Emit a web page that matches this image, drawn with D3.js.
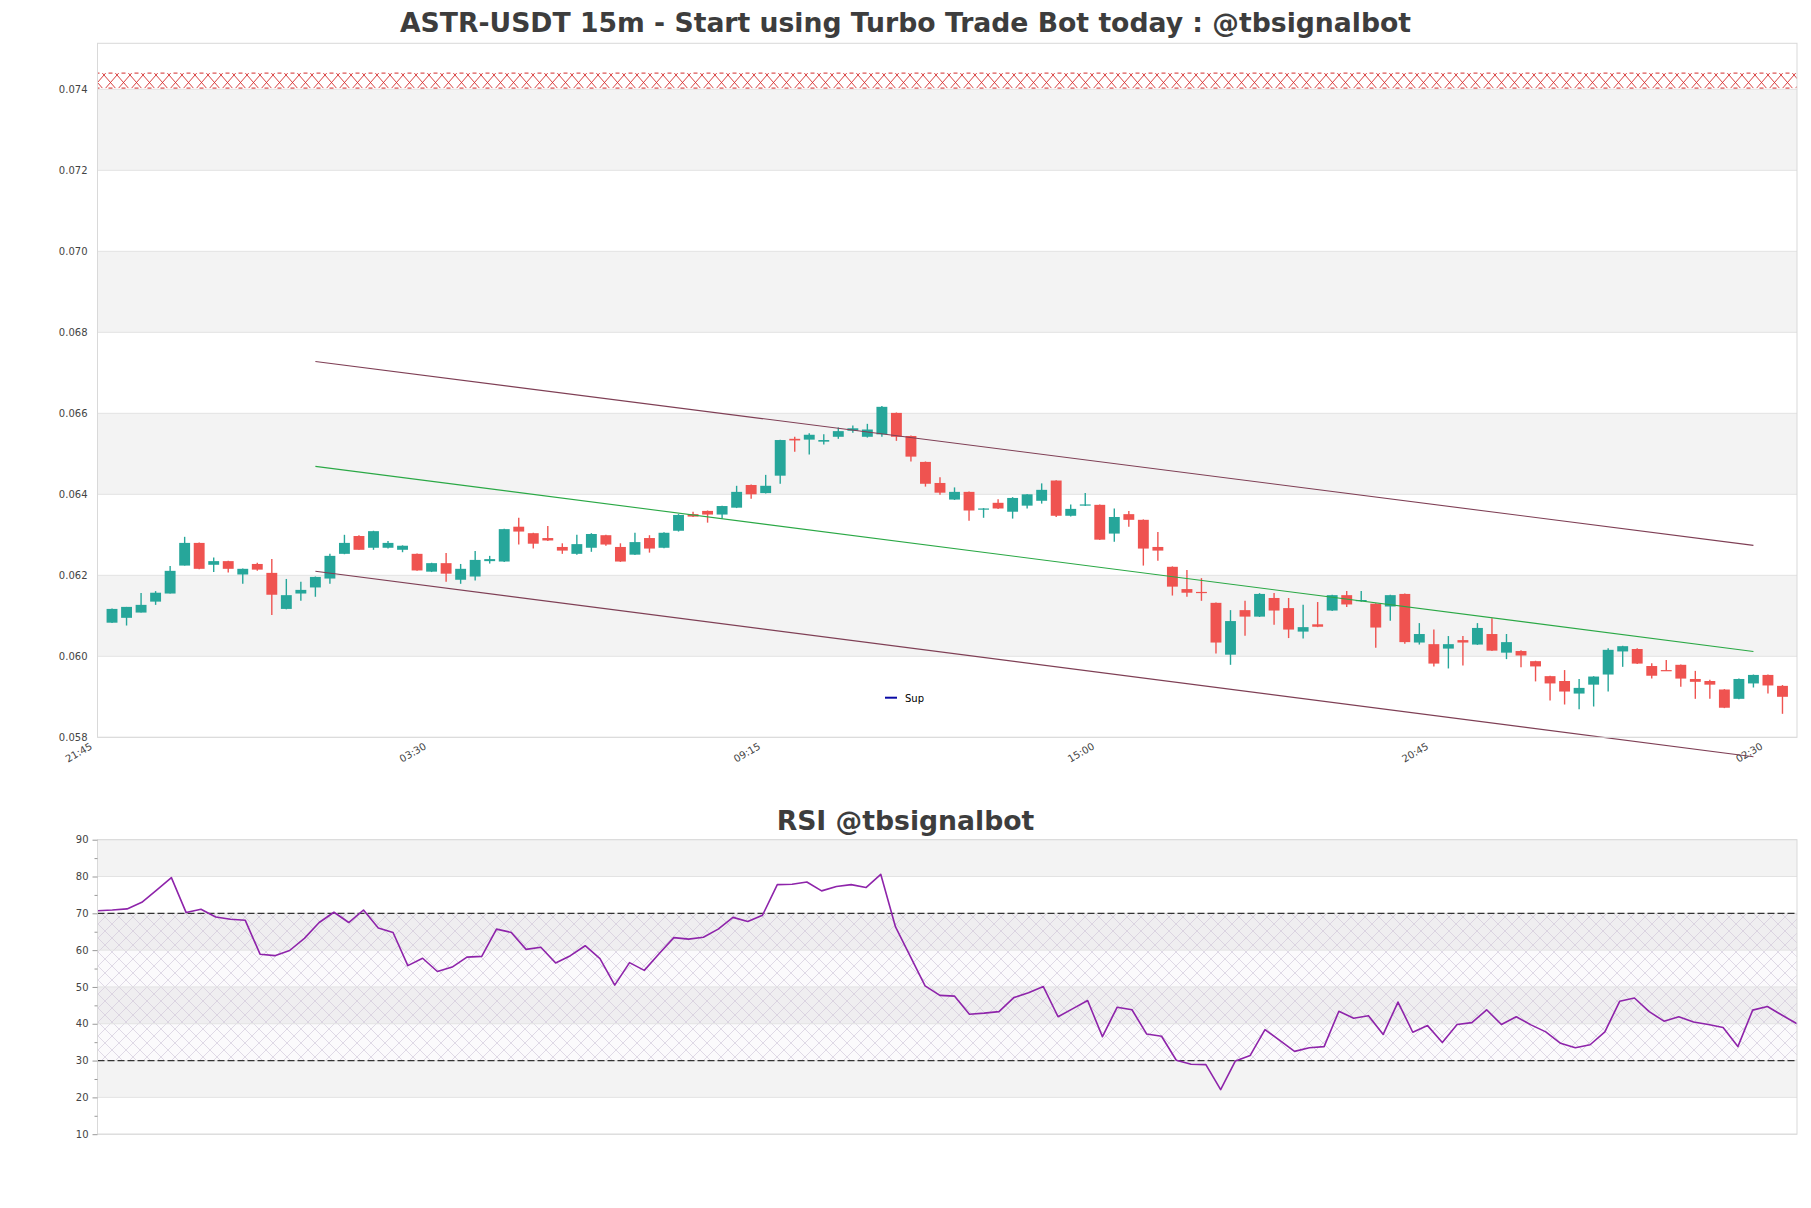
<!DOCTYPE html>
<html><head><meta charset="utf-8">
<script src="https://cdn.jsdelivr.net/npm/d3@7"></script>
<style>
body{margin:0;background:#fff}
svg{display:block}
text{font-family:"DejaVu Sans",sans-serif}
</style>
</head><body>
<svg id="chart" width="1811" height="1208"></svg>
<script>
// ---------- DATA ----------
const titleMain = "ASTR-USDT 15m - Start using Turbo Trade Bot today : @tbsignalbot";
const titleRsi = "RSI @tbsignalbot";

const opens = [0.06083,0.06095,0.06108,0.06135,0.06155,0.06224,0.06280,0.06226,0.06235,0.06202,
0.06228,0.06206,0.06117,0.06155,0.06170,0.06192,0.06253,0.06297,0.06268,0.06268,
0.06263,0.06253,0.06209,0.06230,0.06189,0.06197,0.06235,0.06234,0.06320,0.06304,
0.06292,0.06270,0.06253,0.06268,0.06299,0.06270,0.06251,0.06292,0.06268,0.06310,
0.06351,0.06359,0.06350,0.06367,0.06423,0.06403,0.06446,0.06537,0.06535,0.06530,
0.06542,0.06557,0.06542,0.06548,0.06601,0.06544,0.06480,0.06428,0.06387,0.06406,
0.06363,0.06379,0.06357,0.06372,0.06384,0.06434,0.06347,0.06372,0.06374,0.06303,
0.06351,0.06337,0.06270,0.06221,0.06166,0.06159,0.06132,0.06004,0.06114,0.06098,
0.06144,0.06119,0.06061,0.06079,0.06113,0.06151,0.06136,0.06130,0.06123,0.06154,
0.06034,0.06030,0.06019,0.06040,0.06029,0.06055,0.06009,0.06013,0.05988,0.05951,
0.05939,0.05908,0.05930,0.05955,0.06012,0.06018,0.05976,0.05966,0.05979,0.05944,
0.05939,0.05918,0.05895,0.05933,0.05954,0.05927];
const highs = [0.06118,0.06122,0.06156,0.06161,0.06223,0.06295,0.06281,0.06244,0.06236,0.06217,
0.06231,0.06240,0.06191,0.06184,0.06197,0.06253,0.06300,0.06299,0.06310,0.06285,
0.06274,0.06254,0.06231,0.06255,0.06228,0.06260,0.06248,0.06315,0.06342,0.06305,
0.06322,0.06279,0.06300,0.06304,0.06300,0.06279,0.06305,0.06299,0.06306,0.06351,
0.06357,0.06360,0.06372,0.06421,0.06424,0.06448,0.06535,0.06542,0.06551,0.06548,
0.06565,0.06570,0.06574,0.06618,0.06602,0.06545,0.06481,0.06442,0.06417,0.06407,
0.06366,0.06388,0.06393,0.06401,0.06427,0.06435,0.06375,0.06403,0.06375,0.06365,
0.06359,0.06338,0.06307,0.06222,0.06213,0.06193,0.06133,0.06114,0.06137,0.06156,
0.06156,0.06144,0.06127,0.06134,0.06152,0.06161,0.06161,0.06131,0.06152,0.06155,
0.06082,0.06066,0.06050,0.06050,0.06082,0.06094,0.06055,0.06015,0.05989,0.05952,
0.05966,0.05944,0.05951,0.06020,0.06026,0.06020,0.05983,0.05991,0.05980,0.05964,
0.05942,0.05919,0.05945,0.05955,0.05955,0.05929];
const lows = [0.06082,0.06076,0.06108,0.06127,0.06155,0.06224,0.06215,0.06208,0.06207,0.06179,
0.06211,0.06102,0.06116,0.06137,0.06147,0.06179,0.06252,0.06263,0.06263,0.06266,
0.06257,0.06211,0.06208,0.06184,0.06179,0.06187,0.06229,0.06233,0.06276,0.06266,
0.06285,0.06253,0.06251,0.06258,0.06273,0.06233,0.06250,0.06256,0.06267,0.06308,
0.06344,0.06330,0.06340,0.06366,0.06389,0.06402,0.06426,0.06505,0.06498,0.06523,
0.06537,0.06552,0.06540,0.06542,0.06532,0.06481,0.06419,0.06399,0.06386,0.06335,
0.06342,0.06364,0.06340,0.06365,0.06377,0.06344,0.06345,0.06371,0.06287,0.06283,
0.06320,0.06224,0.06236,0.06150,0.06147,0.06137,0.06007,0.05979,0.06051,0.06097,
0.06078,0.06045,0.06044,0.06072,0.06112,0.06122,0.06135,0.06021,0.06088,0.06031,
0.06029,0.05975,0.05970,0.05977,0.06028,0.06013,0.05993,0.05973,0.05938,0.05891,
0.05881,0.05869,0.05876,0.05913,0.05974,0.05981,0.05945,0.05964,0.05925,0.05895,
0.05895,0.05872,0.05894,0.05923,0.05908,0.05858];
const closes = [0.06117,0.06122,0.06127,0.06157,0.06211,0.06280,0.06216,0.06235,0.06216,0.06216,
0.06214,0.06152,0.06151,0.06164,0.06196,0.06248,0.06280,0.06263,0.06309,0.06280,
0.06273,0.06212,0.06230,0.06204,0.06216,0.06238,0.06240,0.06314,0.06308,0.06278,
0.06286,0.06261,0.06277,0.06302,0.06276,0.06234,0.06282,0.06266,0.06305,0.06349,
0.06345,0.06350,0.06371,0.06406,0.06400,0.06421,0.06534,0.06533,0.06547,0.06534,
0.06556,0.06563,0.06560,0.06616,0.06542,0.06493,0.06426,0.06404,0.06406,0.06360,
0.06365,0.06365,0.06391,0.06400,0.06411,0.06347,0.06364,0.06375,0.06288,0.06344,
0.06337,0.06266,0.06261,0.06172,0.06157,0.06156,0.06034,0.06087,0.06098,0.06154,
0.06113,0.06066,0.06072,0.06073,0.06151,0.06128,0.06139,0.06071,0.06151,0.06035,
0.06055,0.05982,0.06030,0.06034,0.06070,0.06014,0.06035,0.06002,0.05975,0.05933,
0.05913,0.05922,0.05950,0.06016,0.06025,0.05982,0.05952,0.05965,0.05945,0.05937,
0.05930,0.05873,0.05944,0.05954,0.05928,0.05900];

const rsiValues = [70.7,70.9,71.2,73.0,76.3,79.7,70.2,71.1,69.0,68.4,
68.1,58.9,58.5,59.9,63.2,67.5,70.3,67.5,70.9,66.0,
64.8,55.8,57.8,54.2,55.4,58.1,58.3,65.7,64.8,60.2,
60.8,56.5,58.5,61.2,57.7,50.5,56.6,54.5,59.0,63.4,
63.0,63.5,65.7,68.9,67.8,69.5,77.8,77.9,78.5,76.1,
77.3,77.8,77.0,80.6,66.3,58.3,50.3,47.7,47.5,42.6,
42.9,43.3,47.1,48.4,50.1,41.9,44.1,46.3,36.5,44.5,
43.8,37.2,36.6,30.1,29.0,28.9,22.1,29.9,31.4,38.4,
35.5,32.5,33.5,33.8,43.4,41.5,42.2,37.1,45.9,37.7,
39.5,34.9,39.8,40.3,43.8,39.8,41.9,39.7,37.8,34.7,
33.5,34.3,37.8,46.1,47.0,43.3,40.7,41.9,40.5,39.8,
39.0,33.8,43.7,44.7,42.3,40.0];

const timeTickIndex = [-1, 22, 45, 68, 91, 114];
const timeTickLabels = ["21:45","03:30","09:15","15:00","20:45","02:30"];
const priceTicks = [0.058,0.060,0.062,0.064,0.066,0.068,0.070,0.072,0.074];
const priceBands = [[0.060,0.062],[0.064,0.066],[0.068,0.070],[0.072,0.074]];
const resistanceZone = [0.07403, 0.07440];
const channelIndex = [14, 113];
const channelUpper = [0.06728, 0.06274];
const channelMid = [0.06469, 0.06012];
const channelLower = [0.06210, 0.05752];
const legendLabels = ["Sup"];

const rsiTicks = [10,20,30,40,50,60,70,80,90];
const rsiMinor = [15,25,35,45,55,65,75,85];
const rsiBands = [[80,90],[60,70],[40,50],[20,30]];
const rsiZone = [30,70];
const rsiLevels = [70,30];

// ---------- LAYOUT ----------
const W = 1811, H = 1208;
const M = {left:97.5, right:1797, top:43.3, bottom:737.3};
const R = {left:97.5, right:1797, top:839.7, bottom:1134.2};
const cUp = "#26a69a", cDown = "#ef5350";
const gridC = "#e3e3e3", bandC = "#f3f3f3", frameC = "#d9d9d9", txtC = "#444";

const svg = d3.select("#chart");
const defs = svg.append("defs");

// hatch patterns
const pr = defs.append("pattern").attr("id","redHatch").attr("patternUnits","userSpaceOnUse")
  .attr("width",13).attr("height",15);
pr.append("path").attr("d","M0,0L13,15M0,15L13,0").attr("stroke","#d42a2a").attr("stroke-width",0.9).attr("fill","none");

const pp = defs.append("pattern").attr("id","rsiHatch").attr("patternUnits","userSpaceOnUse")
  .attr("width",14).attr("height",14);
pp.append("path").attr("d","M0,0L14,14M0,14L14,0M-1,1L1,-1M13,15L15,13").attr("stroke","#cdc3d6").attr("stroke-width",0.6).attr("fill","none");

// ---------- MAIN CHART ----------
const x = d3.scaleLinear().domain([-1,116]).range([M.left, M.right]);
const y = d3.scaleLinear().domain([0.058, 0.075136]).range([M.bottom, M.top]);
const step = x(1) - x(0);
const bodyW = step * 0.75;

const g = svg.append("g");
g.selectAll("rect.band").data(priceBands).join("rect")
  .attr("x", M.left).attr("width", M.right - M.left)
  .attr("y", d => y(d[1])).attr("height", d => y(d[0]) - y(d[1]))
  .attr("fill", bandC);
g.selectAll("line.grid").data(priceTicks).join("line")
  .attr("x1", M.left).attr("x2", M.right)
  .attr("y1", d => y(d)).attr("y2", d => y(d))
  .attr("stroke", gridC).attr("stroke-width", 1);

// resistance zone
g.append("rect").attr("x", M.left).attr("width", M.right - M.left)
  .attr("y", y(resistanceZone[1])).attr("height", y(resistanceZone[0]) - y(resistanceZone[1]))
  .attr("fill", "#fff");
g.append("rect").attr("x", M.left).attr("width", M.right - M.left)
  .attr("y", y(resistanceZone[1])).attr("height", y(resistanceZone[0]) - y(resistanceZone[1]))
  .attr("fill", "url(#redHatch)");
[resistanceZone[0], resistanceZone[1]].forEach(v => {
  g.append("line").attr("x1", M.left).attr("x2", M.right).attr("y1", y(v)).attr("y2", y(v))
    .attr("stroke", "#d42a2a").attr("stroke-width", 1).attr("stroke-dasharray","4,9").attr("stroke-dashoffset", 2);
});

// candles
const candles = opens.map((o,i) => ({i, o, h: highs[i], l: lows[i], c: closes[i]}));
const cg = g.append("g");
cg.selectAll("line.wick").data(candles).join("line")
  .attr("x1", d => x(d.i)).attr("x2", d => x(d.i))
  .attr("y1", d => y(d.h)).attr("y2", d => y(d.l))
  .attr("stroke", d => d.c >= d.o ? cUp : cDown).attr("stroke-width", 1.4);
cg.selectAll("rect.body").data(candles).join("rect")
  .attr("x", d => x(d.i) - bodyW/2).attr("width", bodyW)
  .attr("y", d => y(Math.max(d.o, d.c)))
  .attr("height", d => Math.max(1.2, Math.abs(y(d.o) - y(d.c))))
  .attr("fill", d => d.c >= d.o ? cUp : cDown);

// channel lines
const chan = [[channelUpper,"#7f3f55"],[channelMid,"#2aa845"],[channelLower,"#7f3f55"]];
chan.forEach(([vals,col]) => {
  g.append("line").attr("x1", x(channelIndex[0])).attr("x2", x(channelIndex[1]))
    .attr("y1", y(vals[0])).attr("y2", y(vals[1]))
    .attr("stroke", col).attr("stroke-width", 1.1);
});

// frame
g.append("rect").attr("x", M.left).attr("y", M.top).attr("width", M.right - M.left).attr("height", M.bottom - M.top)
  .attr("fill","none").attr("stroke", frameC).attr("stroke-width", 1);

// y axis labels
const yAxis = d3.axisLeft(y).tickValues(priceTicks).tickFormat(d3.format(".3f")).tickSize(0).tickPadding(10);
const ya = svg.append("g").attr("transform", `translate(${M.left},0)`).call(yAxis);
ya.select(".domain").remove();
ya.selectAll("text").attr("font-size", 10).attr("fill", txtC).attr("font-family", "DejaVu Sans");

// x axis labels (rotated)
const xAxis = d3.axisBottom(x).tickValues(timeTickIndex).tickFormat((d,i) => timeTickLabels[i]).tickSize(0);
const xa = svg.append("g").attr("transform", `translate(0,${M.bottom})`).call(xAxis);
xa.select(".domain").remove();
xa.selectAll("text").attr("font-size", 10).attr("fill", txtC).attr("font-family","DejaVu Sans")
  .attr("text-anchor","end").attr("dy", null).attr("y", 0)
  .attr("transform", "translate(-5,11) rotate(-30)");

// legend
const lg = svg.append("g");
lg.append("line").attr("x1", 885).attr("x2", 897).attr("y1", 697.7).attr("y2", 697.7)
  .attr("stroke", "#0a0aa5").attr("stroke-width", 2);
lg.append("text").attr("x", 905).attr("y", 701.5).text(legendLabels[0])
  .attr("font-size", 10).attr("fill", "#000");

// title
svg.append("text").attr("x", W/2).attr("y", 32).attr("text-anchor","middle")
  .attr("font-size", 26.67).attr("font-weight","bold").attr("fill","#3d3d3d").text(titleMain);

// ---------- RSI ----------
const xr = d3.scaleLinear().domain([0, rsiValues.length - 1]).range([R.left, R.right]);
const yr = d3.scaleLinear().domain([10, 90]).range([R.bottom, R.top]);
const rg = svg.append("g");
rg.selectAll("rect.band").data(rsiBands).join("rect")
  .attr("x", R.left).attr("width", R.right - R.left)
  .attr("y", d => yr(d[1])).attr("height", d => yr(d[0]) - yr(d[1]))
  .attr("fill", bandC);
rg.append("rect").attr("x", R.left).attr("width", R.right - R.left)
  .attr("y", yr(rsiZone[1])).attr("height", yr(rsiZone[0]) - yr(rsiZone[1]))
  .attr("fill", "rgba(140,90,170,0.03)");
rg.append("rect").attr("x", R.left).attr("width", R.right - R.left)
  .attr("y", yr(rsiZone[1])).attr("height", yr(rsiZone[0]) - yr(rsiZone[1]))
  .attr("fill", "url(#rsiHatch)");
rg.selectAll("line.grid").data(rsiTicks).join("line")
  .attr("x1", R.left).attr("x2", R.right)
  .attr("y1", d => yr(d)).attr("y2", d => yr(d))
  .attr("stroke", gridC).attr("stroke-width", 1);
rg.selectAll("line.lvl").data(rsiLevels).join("line")
  .attr("x1", R.left).attr("x2", R.right)
  .attr("y1", d => yr(d)).attr("y2", d => yr(d))
  .attr("stroke", "#333").attr("stroke-width", 1.2).attr("stroke-dasharray", "7,3");
rg.append("path").datum(rsiValues)
  .attr("d", d3.line().x((d,i) => xr(i)).y(d => yr(d)))
  .attr("fill","none").attr("stroke","#8e24aa").attr("stroke-width", 1.6).attr("stroke-linejoin","round");
rg.append("rect").attr("x", R.left).attr("y", R.top).attr("width", R.right - R.left).attr("height", R.bottom - R.top)
  .attr("fill","none").attr("stroke", frameC).attr("stroke-width", 1);

const ryAxis = d3.axisLeft(yr).tickValues(rsiTicks).tickSize(5).tickPadding(4);
const rya = svg.append("g").attr("transform", `translate(${R.left},0)`).call(ryAxis);
rya.select(".domain").remove();
rya.selectAll("line").attr("stroke", "#999");
rya.selectAll("text").attr("font-size", 10).attr("fill", txtC).attr("font-family","DejaVu Sans");
const rym = svg.append("g").attr("transform", `translate(${R.left},0)`)
  .call(d3.axisLeft(yr).tickValues(rsiMinor).tickSize(3).tickFormat(""));
rym.select(".domain").remove();
rym.selectAll("line").attr("stroke", "#999");

svg.append("text").attr("x", W/2).attr("y", 830).attr("text-anchor","middle")
  .attr("font-size", 26.67).attr("font-weight","bold").attr("fill","#3d3d3d").text(titleRsi);
</script>
</body></html>
